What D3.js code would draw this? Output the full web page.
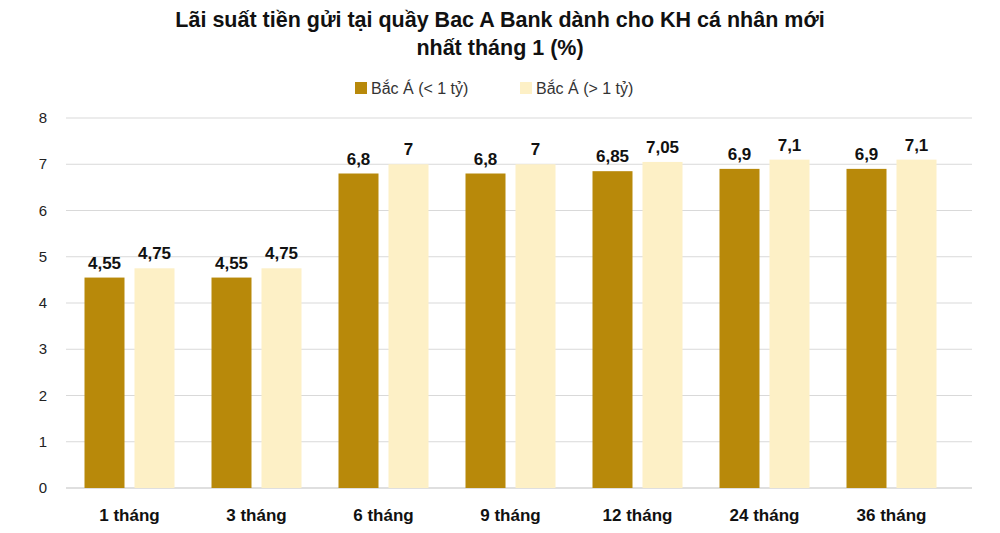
<!DOCTYPE html>
<html><head><meta charset="utf-8">
<script src="https://cdn.jsdelivr.net/npm/d3@7"></script>
<style>body{margin:0;background:#fff}svg{font-family:Arial,"Liberation Sans",sans-serif}</style>
</head><body><svg id="c" width="1000" height="533"></svg>
<script>
const categories=["1 tháng","3 tháng","6 tháng","9 tháng","12 tháng","24 tháng","36 tháng"];
const seriesNames=["Bắc Á (< 1 tỷ)","Bắc Á (> 1 tỷ)"];
const under1=[4.55,4.55,6.8,6.8,6.85,6.9,6.9];
const over1=[4.75,4.75,7,7,7.05,7.1,7.1];
const yTicks=[0,1,2,3,4,5,6,7,8];
const colors=["#B8890A","#FDF0C6"];
const fmt=v=>String(v).replace(".",",");

const svg=d3.select("#c");
const x=d3.scaleBand().domain(categories).range([66,955]).paddingInner(0).paddingOuter(0);
const y=d3.scaleLinear().domain([0,8]).range([488,118]);

svg.append("g").selectAll("line").data(yTicks).join("line")
 .attr("x1",66).attr("x2",972).attr("y1",d=>y(d)).attr("y2",d=>y(d))
 .attr("stroke",d=>d===0?"#bfbfbf":"#d9d9d9").attr("stroke-width",1);
svg.append("g").selectAll("text").data(yTicks).join("text")
 .attr("x",47).attr("y",d=>y(d)+5).attr("text-anchor","end").attr("font-size",15).attr("fill","#222").text(d=>d);

const bw=40,gap=10;
[under1,over1].forEach((vals,s)=>{
 const g=svg.append("g");
 const bx=(i)=>x(categories[i])+x.bandwidth()/2+(s===0?-gap/2-bw:gap/2);
 g.selectAll("rect").data(vals).join("rect")
  .attr("x",(d,i)=>bx(i)).attr("width",bw).attr("y",d=>y(d)).attr("height",d=>y(0)-y(d)).attr("fill",colors[s]);
 g.selectAll("text").data(vals).join("text")
  .attr("x",(d,i)=>bx(i)+bw/2).attr("y",d=>y(d)-9).attr("text-anchor","middle")
  .attr("font-size",17).attr("font-weight","bold").attr("fill","#111").text(fmt);
});

svg.append("g").selectAll("text").data(categories).join("text")
 .attr("x",d=>x(d)+x.bandwidth()/2).attr("y",521).attr("text-anchor","middle")
 .attr("font-size",17).attr("font-weight","bold").attr("fill","#111").text(d=>d);

svg.append("text").attr("x",500).attr("y",27).attr("text-anchor","middle").attr("font-size",21.5).attr("font-weight","bold").attr("fill","#111").text("Lãi suất tiền gửi tại quầy Bac A Bank dành cho KH cá nhân mới");
svg.append("text").attr("x",500).attr("y",55).attr("text-anchor","middle").attr("font-size",21.5).attr("font-weight","bold").attr("fill","#111").text("nhất tháng 1 (%)");

const lx=[355,520];
seriesNames.forEach((n,i)=>{
 svg.append("rect").attr("x",lx[i]).attr("y",82).attr("width",12).attr("height",12).attr("fill",colors[i]);
 svg.append("text").attr("x",lx[i]+16).attr("y",94).attr("font-size",16).attr("fill","#333").text(n);
});
</script></body></html>
